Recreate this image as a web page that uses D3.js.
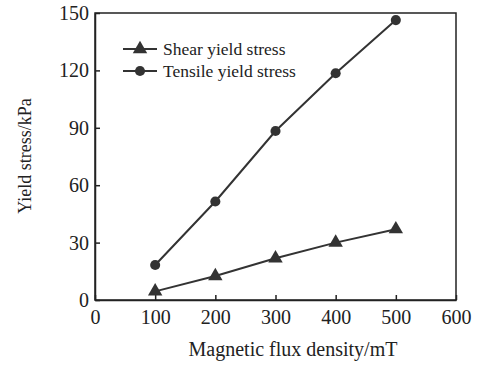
<!DOCTYPE html>
<html>
<head>
<meta charset="utf-8">
<script src="https://cdn.jsdelivr.net/npm/d3@7"></script>
<style>
  html, body { margin: 0; padding: 0; background: #fff; }
  svg text { font-family: "Liberation Serif", "DejaVu Serif", serif !important; fill: #222; }
</style>
</head>
<body>
<svg id="chart" width="490" height="365"></svg>
<script>
// Magnetic flux density (mT)
const fluxDensity = [100, 200, 300, 400, 500];
// Yield stress (kPa)
const shearStress = [4.5, 12.5, 21.8, 30.0, 37.0];
const tensileStress = [18.3, 51.5, 88.3, 118.5, 146.3];
const xTicks = [0, 100, 200, 300, 400, 500, 600];
const yTicks = [0, 30, 60, 90, 120, 150];
const seriesNames = ["Shear yield stress", "Tensile yield stress"];

const serif = "'Liberation Serif', 'DejaVu Serif', serif";
const svg = d3.select("#chart");
const margin = { left: 95, right: 34, top: 13, bottom: 65 };
const W = 490, H = 365;
const x = d3.scaleLinear().domain([0, 600]).range([margin.left, W - margin.right]);
const y = d3.scaleLinear().domain([0, 150]).range([H - margin.bottom, margin.top]);

const ink = "#333";

// plot frame
svg.append("rect")
  .attr("x", x(0)).attr("y", y(150))
  .attr("width", x(600) - x(0)).attr("height", y(0) - y(150))
  .attr("fill", "none").attr("stroke", "#222").attr("stroke-width", 1.5);

// axes with inward ticks
const xAxis = svg.append("g").attr("transform", `translate(0,${y(0)})`)
  .call(d3.axisBottom(x).tickValues(xTicks).tickSizeInner(-5).tickSizeOuter(0).tickPadding(10));
const yAxis = svg.append("g").attr("transform", `translate(${x(0)},0)`)
  .call(d3.axisLeft(y).tickValues(yTicks).tickSizeInner(-5).tickSizeOuter(0).tickPadding(6));
[xAxis, yAxis].forEach(g => {
  g.attr("font-family", serif).attr("font-size", 20);
  g.select(".domain").attr("stroke", "#222").attr("stroke-width", 1.5);
  g.selectAll(".tick line").attr("stroke", "#222").attr("stroke-width", 1.5);
  g.selectAll(".tick text").style("font-family", serif).style("font-size", "20px").attr("fill", "#222");
});

// axis titles
svg.append("text")
  .attr("x", 293).attr("y", 356)
  .attr("text-anchor", "middle").style("font-size", "20px")
  .text("Magnetic flux density/mT");
svg.append("text")
  .attr("transform", `translate(31,156) rotate(-90)`)
  .attr("text-anchor", "middle").style("font-size", "18px")
  .text("Yield stress/kPa");

const line = d3.line().x(d => x(d[0])).y(d => y(d[1]));
const tri = d3.symbol().type(d3.symbolTriangle).size(90);
const dot = d3.symbol().type(d3.symbolCircle).size(80);

function drawSeries(values, sym) {
  const pts = fluxDensity.map((f, i) => [f, values[i]]);
  svg.append("path").datum(pts).attr("d", line)
    .attr("fill", "none").attr("stroke", ink).attr("stroke-width", 2);
  svg.append("g").selectAll("path").data(pts).join("path")
    .attr("transform", d => `translate(${x(d[0])},${y(d[1])})`)
    .attr("d", sym).attr("fill", ink);
}
drawSeries(shearStress, tri);
drawSeries(tensileStress, dot);

// legend
const legend = svg.append("g");
[tri, dot].forEach((sym, i) => {
  const ly = 49 + i * 22;
  legend.append("line").attr("x1", 123).attr("x2", 157).attr("y1", ly).attr("y2", ly)
    .attr("stroke", ink).attr("stroke-width", 2);
  legend.append("path").attr("transform", `translate(140,${ly})`).attr("d", sym).attr("fill", ink);
  legend.append("text").attr("x", 163).attr("y", ly + 6).style("font-size", "17.5px")
    .text(seriesNames[i]);
});
</script>
</body>
</html>
